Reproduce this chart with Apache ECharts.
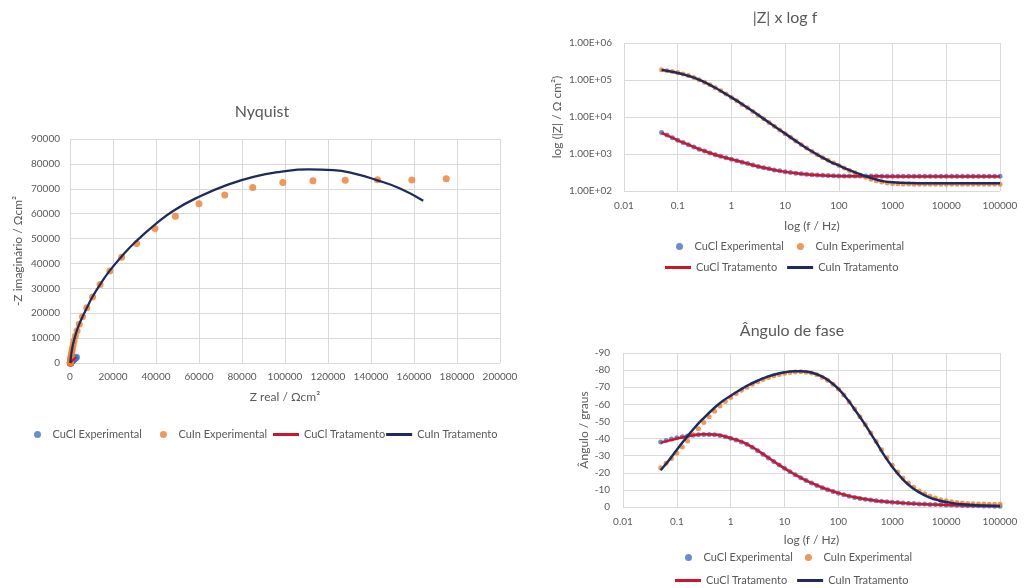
<!DOCTYPE html>
<html>
<head>
<meta charset="utf-8">
<script src="https://cdn.jsdelivr.net/npm/echarts@6/dist/echarts.min.js"></script>
<style>
  html, body { margin: 0; padding: 0; background: #ffffff; }
  #chart { width: 1025px; height: 588px; }
</style>
</head>
<body>
<div id="chart"></div>
<script>
// ---- Nyquist data (Ω·cm²) ----
const nyqCuClExpRe = [2995, 2520, 2100, 1790, 1540, 1330, 1150, 1000, 880, 780, 700, 630, 570, 520, 480, 440, 400, 370, 345, 320, 300, 285, 275, 265, 258, 253, 250, 248, 247, 246];
const nyqCuClExpIm = [2340, 2030, 1760, 1520, 1340, 1180, 1040, 910, 810, 720, 640, 570, 500, 440, 380, 330, 280, 235, 195, 160, 130, 105, 85, 65, 50, 35, 25, 15, 8, 4];
const nyqCuInExpRe = [175000, 159000, 143000, 128000, 113000, 99000, 85000, 72000, 60000, 49000, 39500, 31000, 24000, 18500, 14000, 10500, 7800, 5800, 4300, 3300, 2500, 1900, 1500, 1150, 900, 700, 560, 450, 370, 310, 270, 240, 220, 205, 195, 188, 182, 178, 175, 172, 170, 168, 166, 165];
const nyqCuInExpIm = [74000, 73500, 73600, 73400, 73200, 72500, 70500, 67500, 64000, 59000, 54000, 48000, 42500, 37000, 31500, 26500, 22200, 18600, 15600, 13000, 10800, 8900, 7300, 5900, 4700, 3700, 2900, 2200, 1700, 1250, 900, 640, 450, 310, 210, 140, 95, 65, 45, 30, 20, 12, 7, 4];
const nyqCuClFitRe = [248, 255, 270, 300, 350, 420, 520, 650, 820, 1050, 1350, 1750, 2300, 2950];
const nyqCuClFitIm = [0, 40, 90, 140, 220, 320, 440, 580, 750, 950, 1190, 1480, 1830, 2300];
const nyqCuInFitRe = [165, 220, 330, 500, 750, 1100, 1600, 2300, 3200, 4400, 5900, 7900, 10400, 13800, 18400, 24000, 30500, 39500, 48500, 60500, 72900, 85300, 97700, 110900, 122500, 131800, 142600, 153500, 164300];
const nyqCuInFitIm = [0, 700, 1700, 3000, 4500, 6200, 8200, 10500, 13000, 15800, 18700, 22300, 26500, 31300, 37000, 42800, 48700, 55600, 61400, 67000, 71500, 74800, 76800, 77800, 77500, 76200, 73500, 70100, 65200];

// ---- Bode data: measured frequencies (Hz) ----
const freqExp = [0.0501, 0.0631, 0.0794, 0.1, 0.126, 0.158, 0.2, 0.251, 0.316, 0.398, 0.501, 0.631, 0.794, 1, 1.26, 1.58, 2, 2.51, 3.16, 3.98, 5.01, 6.31, 7.94, 10, 12.6, 15.8, 20, 25.1, 31.6, 39.8, 50.1, 63.1, 79.4, 100, 126, 158, 200, 251, 316, 398, 501, 631, 794, 1000, 1260, 1580, 2000, 2510, 3160, 3980, 5010, 6310, 7940, 10000, 12600, 15800, 20000, 25100, 31600, 39800, 50100, 63100, 79400, 100000];
const zCuClExp = [3800, 3240, 2750, 2340, 2040, 1780, 1550, 1350, 1200, 1070, 955, 870, 794, 724, 661, 603, 550, 501, 457, 427, 398, 372, 351, 331, 316, 302, 292, 283, 276, 270, 265, 261, 258, 256, 255, 254, 253, 253, 253, 253, 253, 252, 252, 252, 252, 252, 252, 252, 252, 252, 252, 252, 252, 252, 252, 252, 252, 252, 252, 252, 252, 252, 252, 252];
const zCuInExp = [190500, 178000, 170000, 158500, 144500, 131800, 117500, 102300, 87100, 74100, 61700, 51300, 41700, 33900, 27500, 21900, 17800, 14100, 11200, 8910, 7080, 5620, 4470, 3550, 2820, 2240, 1780, 1450, 1175, 955, 794, 676, 575, 490, 417, 360, 310, 268, 235, 208, 188, 174, 165, 160, 157, 155, 154, 153, 152, 152, 152, 152, 152, 152, 152, 152, 152, 152, 152, 152, 152, 152, 152, 152];
const phaseCuClExp = [-38.0, -38.9, -39.7, -40.4, -41.0, -41.5, -41.9, -42.2, -42.4, -42.4, -42.2, -41.8, -41.1, -40.2, -39.2, -38.0, -36.6, -34.9, -32.9, -30.8, -28.7, -26.6, -24.6, -22.6, -20.6, -18.8, -17.1, -15.5, -14.0, -12.6, -11.3, -10.1, -9.0, -8.0, -7.1, -6.3, -5.6, -5.0, -4.5, -4.1, -3.7, -3.4, -3.1, -2.8, -2.6, -2.4, -2.2, -2.0, -1.8, -1.7, -1.5, -1.4, -1.3, -1.2, -1.1, -1.0, -0.9, -0.8, -0.8, -0.7, -0.6, -0.6, -0.5, -0.5];
const phaseCuInExp = [-23.0, -25.5, -28.3, -31.5, -35.0, -38.6, -42.2, -45.8, -49.4, -52.8, -56.0, -59.0, -61.7, -64.0, -66.2, -68.2, -70.0, -71.7, -73.2, -74.5, -75.7, -76.7, -77.5, -78.1, -78.6, -78.9, -79.0, -78.8, -78.3, -77.3, -75.9, -74.1, -71.8, -68.9, -65.4, -61.5, -57.2, -52.7, -48.0, -43.2, -38.3, -33.5, -28.8, -24.4, -20.5, -17.0, -14.0, -11.5, -9.4, -7.7, -6.3, -5.2, -4.3, -3.6, -3.1, -2.7, -2.4, -2.1, -1.9, -1.8, -1.7, -1.6, -1.6, -1.6];

// ---- Bode data: fitted model ("Tratamento") ----
const freqFit = [0.05, 0.07, 0.1, 0.15, 0.2, 0.3, 0.5, 0.7, 1, 1.5, 2, 3, 5, 7, 10, 15, 20, 30, 50, 70, 100, 150, 200, 300, 500, 700, 1000, 1500, 2000, 3000, 5000, 7000, 10000, 20000, 50000, 100000];
const zCuClFit = [3720, 2990, 2340, 1840, 1550, 1230, 955, 832, 724, 617, 550, 468, 398, 359, 331, 305, 292, 275, 263, 257, 254, 251, 250, 249, 249, 248, 248, 248, 248, 248, 248, 248, 248, 248, 248, 248];
const zCuInFit = [186200, 171800, 154900, 131800, 116100, 90200, 61700, 46200, 33900, 23400, 17800, 11900, 7080, 5070, 3550, 2370, 1780, 1220, 794, 617, 490, 376, 320, 257, 204, 182, 172, 166, 164, 163, 163, 163, 163, 163, 163, 163];
const phaseCuClFit = [-37.5, -38.8, -40.0, -41.2, -41.9, -42.5, -42.4, -41.6, -40.2, -38.5, -36.8, -33.5, -28.8, -25.7, -22.6, -19.3, -17.1, -14.4, -11.4, -9.7, -8.1, -6.6, -5.7, -4.7, -3.7, -3.2, -2.8, -2.4, -2.1, -1.8, -1.5, -1.3, -1.2, -0.9, -0.6, -0.5];
const phaseCuInFit = [-21.5, -27.0, -33.5, -40.5, -45.3, -51.3, -58.0, -61.8, -65.0, -68.5, -70.8, -73.5, -76.3, -77.7, -78.7, -79.3, -79.4, -78.8, -76.2, -73.2, -69.0, -62.5, -57.0, -49.0, -38.0, -30.5, -23.5, -16.8, -13.0, -9.0, -5.5, -4.0, -2.9, -1.6, -0.9, -0.6];

// ---- Labels ----
const seriesNames = ['CuCl Experimental', 'CuIn Experimental', 'CuCl Tratamento', 'CuIn Tratamento'];
const titles = ['Nyquist', '|Z| x log f', 'Ângulo de fase'];

// ---- Styling ----
const FONT = 'Lato, "Open Sans", sans-serif';
const GRAY = '#595959';
const C_BLUE = '#4472C4', C_ORANGE = '#ED7D31', C_RED = '#D0142C', C_NAVY = '#1F2B5C';
const GRID_LINE = { show: true, lineStyle: { color: '#d9d9d9', width: 1 } };

function pairs(xs, ys) { return xs.map((x, i) => [x, ys[i]]); }
function fmtPlain(v) { return String(v); }
function fmtFreq(v) { return String(Number(v.toPrecision(3))); }
function fmtSci(v) {
  const e = Math.round(Math.log10(v));
  return '1.00E' + (e >= 0 ? '+' : '-') + String(Math.abs(e)).padStart(2, '0');
}

function axis(opts) {
  return Object.assign({
    gridIndex: 0,
    axisLine: { show: false },
    axisTick: { show: false },
    splitLine: GRID_LINE,
    nameLocation: 'middle',
    nameTextStyle: { color: GRAY, fontFamily: FONT, fontSize: 12 }
  }, opts);
}
function label(margin, formatter) {
  return { color: GRAY, fontFamily: FONT, fontSize: 10, margin: margin, formatter: formatter };
}

function scatter(name, color, size, xi, data) {
  return { name, type: 'scatter', xAxisIndex: xi, yAxisIndex: xi, symbol: 'circle', symbolSize: size,
           itemStyle: { color }, data, z: 2 };
}
function line(name, color, width, xi, data) {
  return { name, type: 'line', xAxisIndex: xi, yAxisIndex: xi, showSymbol: false, smooth: 0.5,
           lineStyle: { color, width }, itemStyle: { color }, data, z: 3 };
}
function legend(names, icon, w, h, left, top, gap) {
  return { data: names, icon, itemWidth: w, itemHeight: h, left, top, itemGap: gap, orient: 'horizontal',
           textStyle: { color: GRAY, fontFamily: FONT, fontSize: 11 }, selectedMode: false };
}
function titleText(text, x, y) {
  return { type: 'text', x, y, style: { text, fill: GRAY, fontFamily: FONT, fontSize: 16,
           align: 'center', verticalAlign: 'middle' } };
}

const chart = echarts.init(document.getElementById('chart'), null, { renderer: 'canvas' });
chart.setOption({
  animation: false,
  backgroundColor: '#ffffff',
  graphic: [
    titleText(titles[0], 262, 112),
    titleText(titles[1], 785, 18),
    titleText(titles[2], 792, 331)
  ],
  grid: [
    { left: 70, top: 139, width: 430, height: 224 },
    { left: 624, top: 43, width: 376, height: 148 },
    { left: 623, top: 353, width: 377, height: 154 }
  ],
  xAxis: [
    axis({ gridIndex: 0, type: 'value', min: 0, max: 200000, interval: 20000, name: 'Z real / Ωcm²', nameGap: 28,
           axisLabel: label(9, fmtPlain) }),
    axis({ gridIndex: 1, type: 'log', logBase: 10, min: 0.01, max: 100000, splitNumber: 10, name: 'log (f / Hz)', nameGap: 29,
           axisLabel: label(10, fmtFreq) }),
    axis({ gridIndex: 2, type: 'log', logBase: 10, min: 0.01, max: 100000, splitNumber: 10, name: 'log (f / Hz)', nameGap: 27,
           axisLabel: label(10, fmtFreq) })
  ],
  yAxis: [
    axis({ gridIndex: 0, type: 'value', min: 0, max: 90000, interval: 10000, name: '-Z imaginário / Ωcm²', nameGap: 46,
           axisLabel: label(10, fmtPlain) }),
    axis({ gridIndex: 1, type: 'log', logBase: 10, min: 100, max: 1000000, splitNumber: 10, name: 'log (|Z| / Ω cm²)', nameGap: 61,
           axisLabel: label(12, fmtSci) }),
    axis({ gridIndex: 2, type: 'value', min: -90, max: 0, interval: 10, inverse: true, name: 'Ângulo / graus', nameGap: 33,
           axisLabel: label(13, fmtPlain) })
  ],
  legend: [
    legend([seriesNames[0], seriesNames[1]], 'circle', 20, 7, 29, 424, 18),
    legend([seriesNames[2], seriesNames[3]], 'rect', 26, 3, 268, 424, 1),
    legend([seriesNames[0], seriesNames[1]], 'circle', 20, 7, 671, 236, 13),
    legend([seriesNames[2], seriesNames[3]], 'rect', 26, 3, 660, 257, 10),
    legend([seriesNames[0], seriesNames[1]], 'circle', 20, 7, 680, 547, 12),
    legend([seriesNames[2], seriesNames[3]], 'rect', 26, 3, 670, 570, 10)
  ],
  series: [
    // Nyquist
    scatter(seriesNames[0], C_BLUE, 7, 0, pairs(nyqCuClExpRe, nyqCuClExpIm)),
    scatter(seriesNames[1], C_ORANGE, 7, 0, pairs(nyqCuInExpRe, nyqCuInExpIm)),
    line(seriesNames[2], C_RED, 2.25, 0, pairs(nyqCuClFitRe, nyqCuClFitIm)),
    line(seriesNames[3], C_NAVY, 2.25, 0, pairs(nyqCuInFitRe, nyqCuInFitIm)),
    // |Z| vs f
    scatter(seriesNames[0], C_BLUE, 5, 1, pairs(freqExp, zCuClExp)),
    scatter(seriesNames[1], C_ORANGE, 5, 1, pairs(freqExp, zCuInExp)),
    line(seriesNames[2], C_RED, 2.5, 1, pairs(freqFit, zCuClFit)),
    line(seriesNames[3], C_NAVY, 2.5, 1, pairs(freqFit, zCuInFit)),
    // phase vs f
    scatter(seriesNames[0], C_BLUE, 5, 2, pairs(freqExp, phaseCuClExp)),
    scatter(seriesNames[1], C_ORANGE, 5, 2, pairs(freqExp, phaseCuInExp)),
    line(seriesNames[2], C_RED, 2.5, 2, pairs(freqFit, phaseCuClFit)),
    line(seriesNames[3], C_NAVY, 2.5, 2, pairs(freqFit, phaseCuInFit))
  ]
});
</script>
</body>
</html>
